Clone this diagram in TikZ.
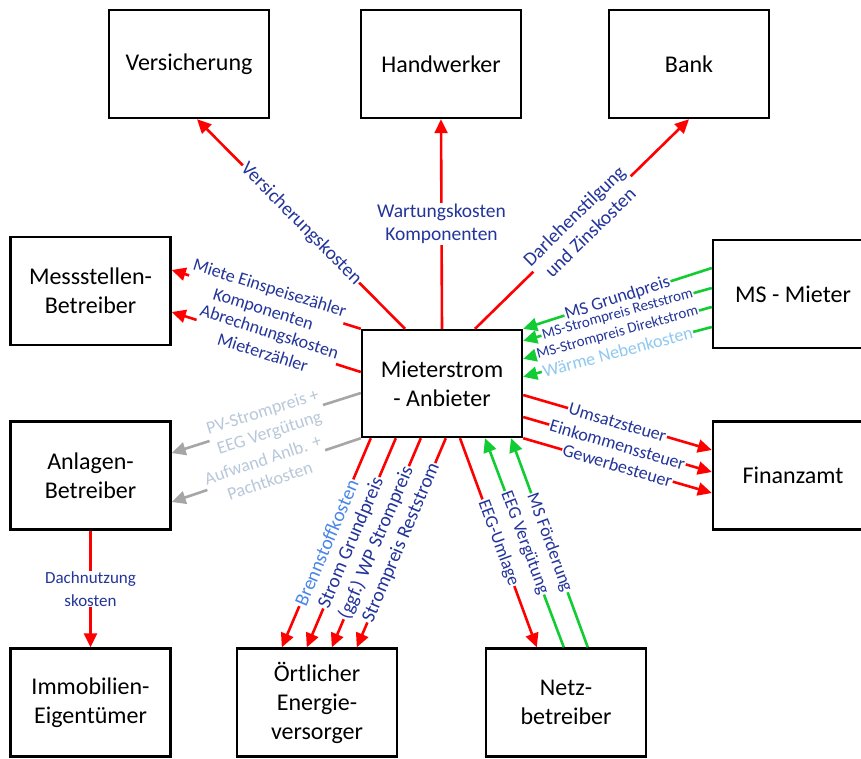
\documentclass[tikz,border=0pt]{standalone}
\usepackage{fontspec}
\setmainfont{Carlito}
\usepackage{xcolor}
\usepackage{tikz}
\usetikzlibrary{arrows.meta,calc,positioning}
\definecolor{costred}{HTML}{FF0000}
\definecolor{paygreen}{HTML}{11CC33}
\definecolor{lblblue}{HTML}{23349B}
\definecolor{fuelblue}{HTML}{4A86E8}
\definecolor{heatblue}{HTML}{8FC9F0}
\definecolor{lblgray}{HTML}{B8C8DA}
\definecolor{arrgray}{HTML}{A6A6A6}

\begin{document}
\begin{tikzpicture}[
  x=1pt,y=-1pt,
  box/.style={draw,line width=2.4pt,fill=white,minimum width=160pt,minimum height=108pt,align=center,font=\fontsize{24}{29}\selectfont},
  arrow/.style={-{Triangle[length=14pt,width=13pt]},line width=2.6pt,costred},
  income/.style={arrow,paygreen},
  passon/.style={arrow,arrgray},
  lbl/.style={midway,fill=white,inner sep=1pt,align=center,text=lblblue,font=\fontsize{18}{22}\selectfont},
  along/.style={lbl,sloped},
  big/.style={font=\fontsize{19.5}{23}\selectfont},
  small/.style={font=\fontsize{15}{18}\selectfont}
]
\useasboundingbox (0,0) rectangle (861,758);

\node[box] (vers) at (189,64) {Versicherung};
\node[box] (hand) at (441,64) {Handwerker};
\node[box] (bank) at (689,64) {Bank};
\node[box] (mess) at (90.5,291) {Messstellen-\\Betreiber};
\node[box] (msm) at (793,294) {MS - Mieter};
\node[box,minimum height=107pt] (anb) at (442,383.5) {Mieterstrom\\- Anbieter};
\node[box] (anl) at (90.5,475.5) {Anlagen-\\Betreiber};
\node[box] (fin) at (793,475.5) {Finanzamt};
\node[box] (immo) at (90.5,702.5) {Immobilien-\\Eigentümer};
\node[box] (evu) at (317,702.5) {Örtlicher\\Energie-\\versorger};
\node[box] (netz) at (566,702.5) {Netz-\\betreiber};

\draw[arrow] ($(anb.north)+(-37,0)$) -- node[along,big] {Versicherungskosten} ($(vers.south)+(8,0)$);
\draw[arrow] (anb.north) -- node[lbl,big] {Wartungskosten\\Komponenten} (hand.south);
\draw[arrow] ($(anb.north)+(33,0)$) -- node[along,big] {Darlehenstilgung\\und Zinskosten} (bank.south);

\draw[arrow] (anb.north west) -- node[along] {Miete Einspeisezähler\\Komponenten} ($(mess.east)+(0,-21)$);
\draw[arrow] ($(anb.west)+(0,-11.5)$) -- node[along] {Abrechnungskosten\\Mieterzähler} ($(mess.east)+(0,21)$);

\draw[passon] ($(anb.west)+(0,9.5)$) -- node[along,text=lblgray] {PV-Strompreis +\\EEG Vergütung} ($(anl.east)+(0,-22.5)$);
\draw[passon] (anb.south west) -- node[along,text=lblgray] {Aufwand Anlb. +\\Pachtkosten} ($(anl.east)+(0,26.5)$);

\draw[arrow] (anl.south) -- node[lbl,font=\fontsize{17}{23}\selectfont] {Dachnutzung\\skosten} (immo.north);

\draw[arrow] ($(anb.south west)+(10,0)$) -- node[along,big,text=fuelblue] {Brennstoffkosten} ($(evu.north west)+(46,0)$);
\draw[arrow] ($(anb.south west)+(35,0)$) -- node[along,big] {Strom Grundpreis} ($(evu.north west)+(71,0)$);
\draw[arrow] ($(anb.south west)+(60,0)$) -- node[along,big] {(ggf.) WP Strompreis} ($(evu.north west)+(96,0)$);
\draw[arrow] ($(anb.south west)+(85,0)$) -- node[along,big] {Strompreis Reststrom} ($(evu.north west)+(121,0)$);

\draw[arrow] ($(anb.south)+(18,0)$) -- node[along] {EEG-Umlage} ($(netz.north west)+(52,0)$);
\draw[income] ($(netz.north west)+(79,0)$) -- node[along] {EEG Vergütung} ($(anb.south)+(43,0)$);
\draw[income] ($(netz.north west)+(103,0)$) -- node[along] {MS Förderung} ($(anb.south)+(69,0)$);

\draw[arrow] ($(anb.east)+(0,11.5)$) -- node[along] {Umsatzsteuer} ($(fin.west)+(0,-25.5)$);
\draw[arrow] ($(anb.east)+(0,33.5)$) -- node[along] {Einkommenssteuer} ($(fin.west)+(0,-3.5)$);
\draw[arrow] (anb.south east) -- node[along] {Gewerbesteuer} ($(fin.west)+(0,17.5)$);

\draw[income] ($(msm.west)+(0,-26)$) -- node[along] {MS Grundpreis} (anb.north east);
\draw[income] ($(msm.west)+(0,-6)$) -- node[along,small] {MS-Strompreis Reststrom} ($(anb.north east)+(0,12)$);
\draw[income] ($(msm.west)+(0,13)$) -- node[along,small] {MS-Strompreis Direktstrom} ($(anb.north east)+(0,30)$);
\draw[income] ($(msm.west)+(0,33)$) -- node[along,text=heatblue] {Wärme Nebenkosten} ($(anb.north east)+(0,48)$);
\end{tikzpicture}
\end{document}
